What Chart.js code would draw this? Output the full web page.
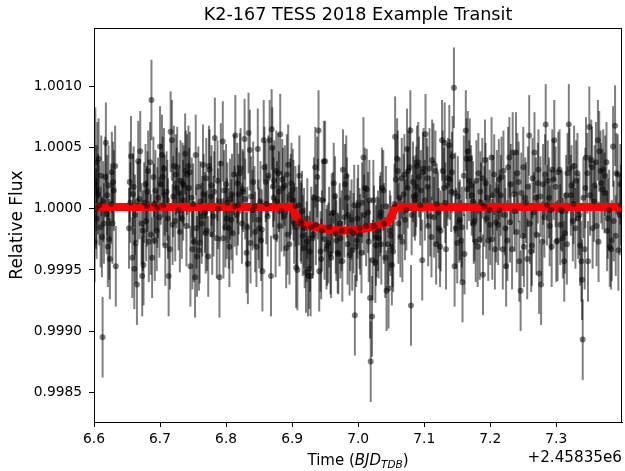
<!DOCTYPE html>
<html>
<head>
<meta charset="utf-8">
<script src="https://cdn.jsdelivr.net/npm/chart.js@4.4.1/dist/chart.umd.min.js"></script>
<style>
  html, body { margin: 0; padding: 0; background: #fff; }
  #wrap { width: 625px; height: 471px; }
</style>
</head>
<body>
<div id="wrap"><canvas id="chart" width="625" height="471"></canvas></div>
<script>
const chartTitle = "K2-167 TESS 2018 Example Transit";
const yAxisLabel = "Relative Flux";
const timeOffsetLabel = "+2.45835e6";

const xTicks = [6.6, 6.7, 6.8, 6.9, 7.0, 7.1, 7.2, 7.3];
const yTicks = [0.9985, 0.9990, 0.9995, 1.0000, 1.0005, 1.0010];
const xRange = [6.6, 7.3995];
const yRange = [0.998256, 1.001479];

// observed points: time (BJD - 2458350) and flux deviation from 1, in units of 1e-5
const obsTime = [
  6.600, 6.601, 6.602, 6.603, 6.604, 6.605, 6.606, 6.607, 6.608, 6.610,
  6.612, 6.613, 6.614, 6.615, 6.617, 6.618, 6.619, 6.620, 6.622, 6.623,
  6.624, 6.626, 6.628, 6.629, 6.630, 6.632, 6.633, 6.653, 6.655, 6.656,
  6.658, 6.659, 6.661, 6.662, 6.663, 6.665, 6.667, 6.669, 6.670, 6.673,
  6.674, 6.675, 6.676, 6.678, 6.679, 6.680, 6.682, 6.683, 6.685, 6.687,
  6.688, 6.690, 6.691, 6.693, 6.695, 6.697, 6.699, 6.700, 6.703, 6.704,
  6.705, 6.707, 6.708, 6.710, 6.712, 6.713, 6.716, 6.718, 6.719, 6.721,
  6.723, 6.725, 6.726, 6.728, 6.730, 6.731, 6.733, 6.735, 6.736, 6.738,
  6.740, 6.741, 6.743, 6.745, 6.746, 6.748, 6.749, 6.751, 6.753, 6.754,
  6.756, 6.758, 6.760, 6.761, 6.763, 6.765, 6.766, 6.768, 6.770, 6.771,
  6.773, 6.775, 6.777, 6.779, 6.781, 6.783, 6.786, 6.788, 6.790, 6.792,
  6.795, 6.797, 6.799, 6.800, 6.802, 6.804, 6.806, 6.808, 6.809, 6.812,
  6.814, 6.816, 6.818, 6.819, 6.822, 6.824, 6.826, 6.828, 6.831, 6.833,
  6.834, 6.836, 6.838, 6.841, 6.843, 6.846, 6.848, 6.850, 6.852, 6.854,
  6.855, 6.857, 6.860, 6.863, 6.866, 6.868, 6.869, 6.870, 6.871, 6.873,
  6.875, 6.877, 6.879, 6.881, 6.882, 6.884, 6.886, 6.888, 6.891, 6.893,
  6.894, 6.896, 6.897, 6.899, 6.901, 6.903, 6.905, 6.906, 6.908, 6.911,
  6.913, 6.914, 6.916, 6.919, 6.921, 6.923, 6.924, 6.926, 6.928, 6.929,
  6.931, 6.933, 6.935, 6.938, 6.940, 6.941, 6.943, 6.945, 6.946, 6.948,
  6.950, 6.953, 6.956, 6.958, 6.960, 6.963, 6.965, 6.967, 6.970, 6.972,
  6.975, 6.977, 6.980, 6.982, 6.984, 6.985, 6.988, 6.990, 6.993, 6.995,
  6.997, 6.998, 7.000, 7.003, 7.005, 7.008, 7.010, 7.013, 7.015, 7.016,
  7.018, 7.019, 7.021, 7.023, 7.024, 7.026, 7.028, 7.031, 7.033, 7.035,
  7.036, 7.038, 7.041, 7.043, 7.046, 7.048, 7.051, 7.053, 7.055, 7.056,
  7.059, 7.061, 7.064, 7.066, 7.069, 7.071, 7.073, 7.074, 7.076, 7.079,
  7.080, 7.081, 7.084, 7.086, 7.088, 7.089, 7.091, 7.094, 7.097, 7.099,
  7.102, 7.104, 7.106, 7.109, 7.112, 7.114, 7.117, 7.119, 7.122, 7.124,
  7.127, 7.130, 7.131, 7.133, 7.136, 7.138, 7.141, 7.143, 7.145, 7.146,
  7.148, 7.151, 7.153, 7.156, 7.158, 7.161, 7.163, 7.164, 7.166, 7.169,
  7.171, 7.174, 7.176, 7.179, 7.181, 7.184, 7.186, 7.189, 7.191, 7.192,
  7.194, 7.197, 7.199, 7.202, 7.204, 7.207, 7.209, 7.212, 7.214, 7.217,
  7.219, 7.222, 7.224, 7.227, 7.229, 7.231, 7.234, 7.236, 7.239, 7.241,
  7.244, 7.246, 7.249, 7.251, 7.254, 7.256, 7.259, 7.262, 7.264, 7.267,
  7.269, 7.272, 7.274, 7.277, 7.279, 7.282, 7.284, 7.287, 7.289, 7.292,
  7.294, 7.297, 7.300, 7.302, 7.305, 7.307, 7.310, 7.312, 7.315, 7.317,
  7.319, 7.322, 7.325, 7.327, 7.330, 7.332, 7.335, 7.338, 7.339, 7.340,
  7.343, 7.345, 7.348, 7.350, 7.353, 7.355, 7.358, 7.360, 7.363, 7.365,
  7.368, 7.371, 7.373, 7.376, 7.378, 7.381, 7.383, 7.386, 7.389, 7.391,
  7.394, 7.396, 7.398,
  // points hidden inside the dense band
  6.6035, 6.611, 6.621, 6.627, 6.654, 6.660, 6.666, 6.672, 6.681, 6.686,
  6.692, 6.696, 6.701, 6.706, 6.711, 6.715, 6.720, 6.724, 6.729, 6.734,
  6.739, 6.744, 6.750, 6.755, 6.759, 6.764, 6.769, 6.774, 6.778, 6.782,
  6.787, 6.791, 6.796, 6.801, 6.805, 6.810, 6.813, 6.817, 6.821, 6.825,
  6.829, 6.832, 6.837, 6.840, 6.844, 6.849, 6.853, 6.858, 6.861, 6.864,
  6.872, 6.876, 6.880, 6.885, 6.889, 6.892, 6.898, 6.902, 6.907, 6.910,
  6.915, 6.918, 6.922, 6.927, 6.932, 6.936, 6.939, 6.944, 6.949, 6.952,
  6.955, 6.959, 6.962, 6.966, 6.969, 6.973, 6.976, 6.979, 6.983, 6.987,
  6.991, 6.994, 6.999, 7.002, 7.006, 7.009, 7.012, 7.017, 7.022, 7.027,
  7.030, 7.034, 7.039, 7.042, 7.045, 7.049, 7.052, 7.057, 7.060, 7.063,
  7.067, 7.070, 7.075, 7.078, 7.083, 7.087, 7.092, 7.095, 7.098, 7.101,
  7.105, 7.108, 7.111, 7.115, 7.118, 7.121, 7.125, 7.128, 7.132, 7.135,
  7.139, 7.142, 7.147, 7.150, 7.154, 7.157, 7.160, 7.165, 7.168, 7.172,
  7.175, 7.178, 7.182, 7.185, 7.188, 7.193, 7.196, 7.200, 7.203, 7.206,
  7.210, 7.213, 7.216, 7.220, 7.223, 7.226, 7.230, 7.233, 7.237, 7.240,
  7.243, 7.247, 7.250, 7.253, 7.257, 7.260, 7.263, 7.266, 7.270, 7.273,
  7.276, 7.280, 7.283, 7.286, 7.290, 7.293, 7.296, 7.299, 7.303, 7.306,
  7.309, 7.313, 7.316, 7.320, 7.323, 7.326, 7.329, 7.333, 7.336, 7.341,
  7.344, 7.347, 7.351, 7.354, 7.357, 7.361, 7.364, 7.367, 7.370, 7.374,
  7.377, 7.380, 7.384, 7.387, 7.390, 7.393, 7.397
];

const obsDev = [
  21, -27, 50, 0, -8, 38, 12, 41, 3, -15,
  -23, -105, 6, -12, 26, 54, -4, 11, 19, -25,
  -41, 4, -12, 22, 15, 35, -47, -16, 5, 43,
  -40, 12, -49, -5, -28, -62, 39, 8, 47, -55,
  -18, -46, 5, 20, -10, 2, 31, -27, 38, 89,
  -40, 26, 4, 15, -18, 9, -7, 51, 44, 26,
  3, 11, -30, 14, -8, -55, 63, 56, -13, 35,
  -10, 17, 34, -1, -19, 23, -8, 7, 19, 45,
  -14, 28, 35, 30, -47, 9, -33, -27, -56, 44,
  -39, 18, -28, 6, -12, 36, 12, -3, 25, -18,
  -39, 32, 10, -21, -6, 58, -24, 0, -56, 37,
  55, 15, -15, 20, 5, -16, 8, -9, 12, 28,
  60, -5, 3, 12, 33, -12, 14, 57, -36, -45,
  62, 48, 10, 22, 2, -31, 49, -16, 6, -17,
  -51, 56, 22, -6, 56, -55, 65, 50, 18, 23,
  -23, 6, 29, -14, 61, -2, 17, -6, -32, -21,
  36, -29, 8, 21, 16, -12, 2, -48, -50, 27,
  -10, -12, -22, -32, -52, -8, -55, -49, -55, -15,
  -24, 9, 34, 26, 64, -51, -35, -18, 7, 39,
  39, -30, -15, -37, -4, 21, 10, -26, -37, -12,
  -18, 32, 20, 27, -29, -5, -18, -9, -20, -87,
  -31, -26, 3, -21, -36, 42, 17, 16, -3, -27,
  -73, -125, -88, 7, -14, -44, -23, -24, -6, -29,
  17, 15, -40, -67, -65, -18, -46, -35, 4, 59,
  41, -12, -23, 25, 12, -9, -1, 49, 31, 64,
  -79, -5, 10, 7, 18, 35, 38, 3, -42, 33,
  61, 25, -14, -6, 40, 37, 31, 4, -16, -31,
  56, 17, 54, -33, 25, 52, 14, 43, 99, -47,
  -16, 10, -11, -26, -60, -37, 64, 41, 47, 41,
  19, 6, -10, 23, -31, -25, 5, -54, 2, 40,
  -8, -26, -1, 42, 11, -33, -11, -13, -1, 26,
  -33, -5, -47, 34, 42, 20, 46, 12, 46, 29,
  -43, -67, -22, -31, 5, -41, 60, -35, 25, 46,
  9, 21, -53, -62, -27, -7, 69, 23, 9, -1,
  32, 56, -27, -26, 32, -1, -24, -43, 11, 29,
  69, 11, -10, 35, 23, 29, -5, -43, -58, -107,
  -33, 42, -43, 67, 40, -16, 19, 38, 56, 47,
  21, 32, 13, 38, -8, -31, -33, 51, 68, 29,
  -34, -5, 3,
  // points hidden inside the dense band
  15, 27, -31, 30, 22, 18, 6, -12, 14, -21,
  -26, 1, 20, 33, 7, -33, 10, 28, 13, 21,
  31, 17, 4, -16, -34, -6, -20, 35, 19, 14,
  23, 6, -24, -8, -31, -20, 2, 21, 29, 16,
  8, -15, -28, -1, -19, -9, -26, 34, 4, 27,
  9, 31, 14, 24, 19, 28, 12, 7, -15, 3,
  -2, -16, -27, -35, -21, -13, 8, -41, -25, -33,
  -28, -40, -3, -20, -36, -24, -43, -7, 9, -38,
  -34, 3, -8, -16, 5, -5, -14, 7, -42, -30,
  -18, -3, -12, 2, -29, -22, -31, 24, 31, 9,
  -27, 28, 17, 34, 22, 11, 26, 15, 30, 7,
  18, 33, -23, -7, -29, -3, -18, 31, 5, 19,
  24, 30, 13, -28, -9, -15, 27, 16, 23, 11,
  -12, -27, 29, 14, 25, 21, 9, -13, -25, 28,
  15, 24, 11, 31, -16, -26, -11, -33, -2, -19,
  22, 13, 34, 9, 18, -12, -30, -3, -21, 32,
  10, 20, 28, 3, -14, -31, 24, 18, 30, -13,
  -2, -20, -29, 33, 19, 4, -16, -8, -30, 9,
  17, 29, 11, 34, 6, -14, -27, 31, 16, 27,
  -18, -1, -26, -10, -22, 28, 20
];

const fluxErr = 0.00033;

// transit model vertices, deviation in units of 1e-5
const modelTime = [6.600, 6.899, 6.902, 6.905, 6.908, 6.912, 6.925, 6.940, 6.960, 6.978,
                   6.996, 7.016, 7.031, 7.044, 7.048, 7.051, 7.054, 7.057, 7.3995];
const modelDev = [1.5, 1.5, -1, -5, -8.5, -11, -13.5, -15.5, -17.3, -17.8,
                  -17.3, -15.5, -13.5, -11, -8.5, -5, -1, 1.5, 1.5];

const FONT = "'DejaVu Sans', sans-serif";
const toFlux = (d) => 1 + d * 1e-5;

const nObs = Math.min(obsTime.length, obsDev.length);
const obsPoints = [];
for (let i = 0; i < nObs; i++) {
  obsPoints.push({ x: obsTime[i], y: toFlux(obsDev[i]) });
}
const modelPoints = modelTime.map((t, i) => ({ x: t, y: toFlux(modelDev[i]) }));

const errorBars = {
  id: "errorBars",
  beforeDatasetsDraw(chart) {
    const { ctx, chartArea, scales } = chart;
    ctx.save();
    ctx.beginPath();
    ctx.rect(chartArea.left, chartArea.top, chartArea.width, chartArea.height);
    ctx.clip();
    ctx.strokeStyle = "rgba(0,0,0,0.5)";
    ctx.lineWidth = 2;
    obsPoints.forEach((p) => {
      const x = scales.x.getPixelForValue(p.x);
      ctx.beginPath();
      ctx.moveTo(x, scales.y.getPixelForValue(p.y - fluxErr));
      ctx.lineTo(x, scales.y.getPixelForValue(p.y + fluxErr));
      ctx.stroke();
    });
    ctx.restore();
  },
};

const labels = {
  id: "labels",
  afterDraw(chart) {
    const { ctx, chartArea } = chart;
    const cx = (chartArea.left + chartArea.right) / 2;
    const cy = (chartArea.top + chartArea.bottom) / 2;
    ctx.save();
    ctx.fillStyle = "#000";

    // frame
    ctx.strokeStyle = "#000";
    ctx.lineWidth = 1;
    ctx.strokeRect(Math.round(chartArea.left) + 0.5, Math.round(chartArea.top) + 0.5,
      Math.round(chartArea.width) - 1, Math.round(chartArea.height));

    // title
    ctx.font = "17.6px " + FONT;
    ctx.textAlign = "center";
    ctx.textBaseline = "alphabetic";
    ctx.fillText(chartTitle, cx, 20);

    // y label
    ctx.save();
    ctx.translate(17.5, cy);
    ctx.rotate(-Math.PI / 2);
    ctx.font = "17px " + FONT;
    ctx.textBaseline = "middle";
    ctx.fillText(yAxisLabel, 0, 0);
    ctx.restore();

    // x label: Time (BJD_TDB)
    const parts = [
      { text: "Time (", font: "15px " + FONT, dy: 0 },
      { text: "BJD", font: "italic 15px " + FONT, dy: 0 },
      { text: "TDB", font: "italic 10.5px " + FONT, dy: 3 },
      { text: ")", font: "15px " + FONT, dy: 0 },
    ];
    let total = 0;
    parts.forEach((p) => { ctx.font = p.font; p.w = ctx.measureText(p.text).width; total += p.w; });
    let x = cx - total / 2;
    ctx.textAlign = "left";
    ctx.textBaseline = "alphabetic";
    parts.forEach((p) => { ctx.font = p.font; ctx.fillText(p.text, x, 465 + p.dy); x += p.w; });

    // offset text
    ctx.font = "15.2px " + FONT;
    ctx.textAlign = "right";
    ctx.fillText(timeOffsetLabel, chartArea.right, 461.5);
    ctx.restore();
  },
};

new Chart(document.getElementById("chart").getContext("2d"), {
  type: "scatter",
  data: {
    datasets: [
      {
        label: "data",
        data: obsPoints,
        order: 0,
        pointRadius: 3,
        pointHoverRadius: 3,
        pointBackgroundColor: "rgba(0,0,0,0.5)",
        pointBorderWidth: 0,
        showLine: false,
      },
      {
        label: "model",
        data: modelPoints,
        order: 1,
        showLine: true,
        borderColor: "#ff0000",
        borderWidth: 8,
        borderJoinStyle: "round",
        pointRadius: 0,
        tension: 0,
        fill: false,
      },
    ],
  },
  options: {
    responsive: false,
    animation: false,
    layout: { padding: { top: 28, right: 3, bottom: 0, left: 0 } },
    plugins: {
      legend: { display: false },
      tooltip: { enabled: false },
      title: { display: false },
    },
    scales: {
      x: {
        type: "linear",
        min: xRange[0],
        max: xRange[1],
        afterBuildTicks: (s) => { s.ticks = xTicks.map((v) => ({ value: v })); },
        afterFit: (s) => { s.height = 49; },
        grid: { drawOnChartArea: false, tickLength: 5, tickColor: "#000", tickWidth: 1 },
        border: { display: true, color: "#000", width: 1 },
        ticks: {
          color: "#000",
          font: { family: FONT, size: 13.8 },
          padding: 4,
          maxRotation: 0,
          autoSkip: false,
          callback: (v) => Number(v).toFixed(1),
        },
      },
      y: {
        type: "linear",
        min: yRange[0],
        max: yRange[1],
        afterBuildTicks: (s) => { s.ticks = yTicks.map((v) => ({ value: v })); },
        afterFit: (s) => { s.width = 94; },
        grid: { drawOnChartArea: false, tickLength: 5, tickColor: "#000", tickWidth: 1 },
        border: { display: true, color: "#000", width: 1 },
        ticks: {
          color: "#000",
          font: { family: FONT, size: 13.8 },
          padding: 7,
          autoSkip: false,
          callback: (v) => Number(v).toFixed(4),
        },
      },
    },
  },
  plugins: [errorBars, labels],
});
</script>
</body>
</html>
